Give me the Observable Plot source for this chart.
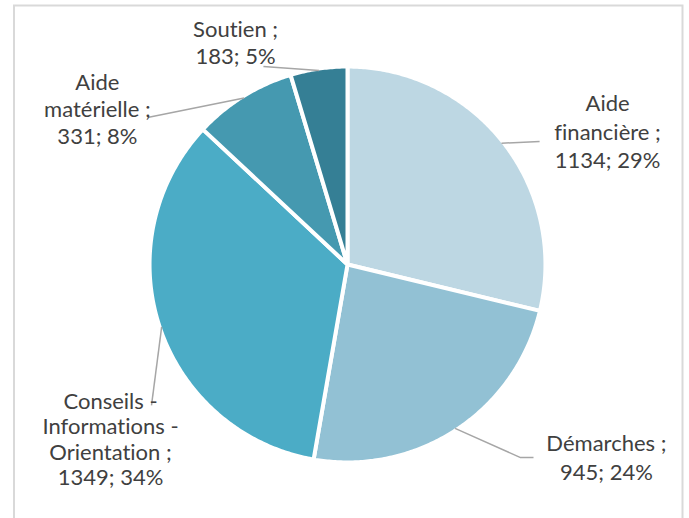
<!DOCTYPE html>
<html>
<head>
<meta charset="utf-8">
<script src="https://cdn.jsdelivr.net/npm/d3@7"></script>
<script src="https://cdn.jsdelivr.net/npm/@observablehq/plot@0.6"></script>
<style>
  body { margin: 0; background: #ffffff; }
  #chart svg { display: block; }
  #chart text { font-variant-ligatures: none; font-feature-settings: "liga" 0, "clig" 0; }
</style>
</head>
<body>
<div id="chart"></div>
<script>
// ---- data ----
const categories = ["Aide financière", "Démarches", "Conseils - Informations - Orientation", "Aide matérielle", "Soutien"];
const values = [1134, 945, 1349, 331, 183];
const percents = ["29%", "24%", "34%", "8%", "5%"];
const labelLines = [
  ["Aide", "financière ;", "1134; 29%"],
  ["Démarches ;", "945; 24%"],
  ["Conseils -", "Informations -", "Orientation ;", "1349; 34%"],
  ["Aide", "matérielle ;", "331; 8%"],
  ["Soutien ;", "183; 5%"]
];

// ---- styles / layout ----
const colors = ["#bdd7e3", "#92c1d4", "#4bacc6", "#4599b0", "#357f95"];
// label block centres, in pie-radius units (centre = 0,0, y up)
const labelPos = [[1.327, 0.684], [1.321, -0.980], [-1.209, -0.890], [-1.276, 0.798], [-0.571, 1.138]];
const labelLineHeight = [1.3, 1.32, 1.15, 1.23, 1.23];
// leader line bends/ends after the slice edge point, in pie-radius units
const leaderEnds = [
  [[0.980, 0.628]],
  [[0.883, -0.985], [0.949, -0.985]],
  [[-1.0, -0.719]],
  [[-1.020, 0.750]],
  [[-0.429, 1.010]]
];
const R = 1.01;

const arcs = d3.pie().sort(null).value(d => d)(values);

const marks = [];
marks.push(Plot.frame({stroke: "#d9d9d9", strokeWidth: 2, insetLeft: 13.5, insetTop: 5, insetRight: 7, insetBottom: -10}));

arcs.forEach((a, i) => {
  const cat = categories[i];
  const pts = [{cat, x: 0, y: 0}];
  const n = Math.max(4, Math.ceil((a.endAngle - a.startAngle) / 0.01));
  for (let k = 0; k <= n; k++) {
    const t = a.startAngle + (a.endAngle - a.startAngle) * k / n;
    pts.push({cat, x: R * Math.sin(t), y: R * Math.cos(t)});
  }
  pts.push({cat, x: 0, y: 0});
  marks.push(Plot.line(pts, {x: "x", y: "y", fill: colors[i], stroke: "#ffffff", strokeWidth: 4, strokeLinejoin: "round", curve: "linear"}));
});

arcs.forEach((a, i) => {
  const mid = (a.startAngle + a.endAngle) / 2;
  const pts = [{x: Math.sin(mid), y: Math.cos(mid)}].concat(leaderEnds[i].map(([x, y]) => ({x, y})));
  marks.push(Plot.line(pts, {x: "x", y: "y", stroke: "#a6a6a6", strokeWidth: 1.5, strokeLinecap: "butt", curve: "linear"}));
});

labelLines.forEach((lines, i) => {
  marks.push(Plot.text([{x: labelPos[i][0], y: labelPos[i][1], t: lines.join("\n")}], {
    x: "x", y: "y", text: "t",
    fontSize: 22, fontFamily: "Lato", fill: "#404040",
    textAnchor: "middle", lineAnchor: "middle", lineHeight: labelLineHeight[i]
  }));
});

const cx = 347, cy = 264, unit = 196, W = 689, H = 518;
const chart = Plot.plot({
  width: W, height: H,
  margin: 0,
  x: {domain: [-cx / unit, (W - cx) / unit], range: [0, W], axis: null},
  y: {domain: [-(H - cy) / unit, cy / unit], range: [H, 0], axis: null},
  style: {background: "#ffffff", overflow: "visible"},
  marks
});
document.getElementById("chart").append(chart);
</script>
</body>
</html>
